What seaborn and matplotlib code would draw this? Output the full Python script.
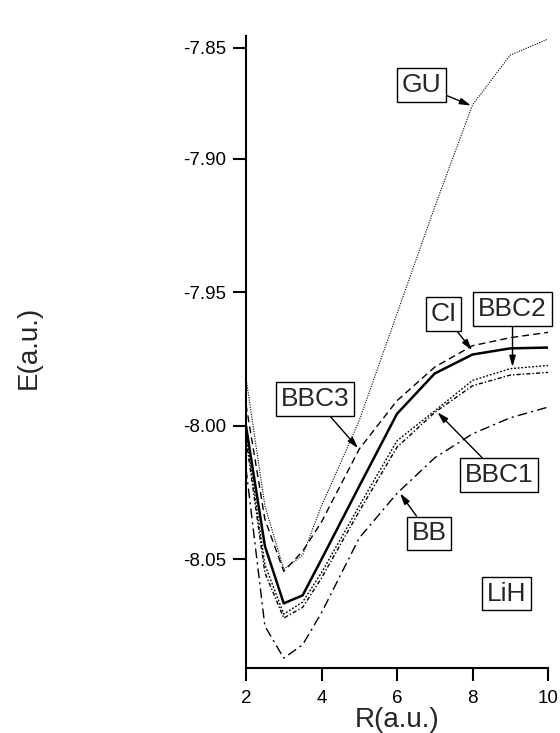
import numpy as np
import pandas as pd
import matplotlib
matplotlib.use("Agg")
import matplotlib.pyplot as plt
import seaborn as sns

# ---------------- data ----------------
R = [2.0, 2.5, 3.0, 3.5, 4.0, 5.0, 6.0, 7.0, 8.0, 9.0, 10.0]
E_GU   = [-7.982, -8.030, -8.0537, -8.0485, -8.030, -7.998, -7.958, -7.918, -7.8757, -7.8532, -7.846]
E_CI   = [-8.000, -8.045, -8.0665, -8.0635, -8.050, -8.0226, -7.9955, -7.9804, -7.9733, -7.9710, -7.9707]
E_BBC3 = [-7.992, -8.035, -8.0545, -8.047, -8.036, -8.0087, -7.9906, -7.978, -7.970, -7.967, -7.965]
E_BBC2 = [-8.003, -8.052, -8.0705, -8.066, -8.055, -8.030, -8.0056, -7.9944, -7.983, -7.9786, -7.9774]
E_BBC1 = [-8.005, -8.055, -8.0720, -8.068, -8.057, -8.032, -8.008, -7.995, -7.985, -7.981, -7.980]
E_BB   = [-8.016, -8.075, -8.0870, -8.082, -8.070, -8.042, -8.0253, -8.012, -8.003, -7.997, -7.993]

y_ticks = [-8.05, -8.00, -7.95, -7.90, -7.85]
y_tick_labels = ["-8.05", "-8.00", "-7.95", "-7.90", "-7.85"]
x_ticks = [2, 4, 6, 8, 10]

# label: (text, box position, arrow tip or None)
labels = [
    ("GU",   (6.64, -7.8667), (7.96, -7.8760)),
    ("CI",   (7.23, -7.9581), (7.99, -7.9717)),
    ("BBC2", (9.06, -7.9563), (9.06, -7.9780)),
    ("BBC3", (3.83, -7.9900), (4.97, -8.0084)),
    ("BBC1", (8.71, -8.0185), (7.07, -7.9949)),
    ("BB",   (6.85, -8.0403), (6.08, -8.0253)),
    ("LiH",  (8.90, -8.0628), None),
]

# ---------------- style ----------------
sns.set_theme(style="white")
plt.rcParams["font.family"] = ["Liberation Sans", "DejaVu Sans"]

fig = plt.figure(figsize=(5.6, 7.33), dpi=100)
ax = fig.add_axes([246/560, 1-668/733, (548-246)/560, (668-36)/733])

# compressed scale above -7.90 (as in the original figure)
K = 0.83
def fwd(y):
    y = np.asarray(y, dtype=float)
    return np.where(y <= -7.90, y, -7.90 + (y + 7.90) * K)
def inv(t):
    t = np.asarray(t, dtype=float)
    return np.where(t <= -7.90, t, -7.90 + (t + 7.90) / K)

series = [
    (E_GU,   dict(lw=0.8, linestyle=(0, (1, 1.2)))),
    (E_BB,   dict(lw=1.0, linestyle=(0, (7, 3, 1.5, 3)))),
    (E_BBC1, dict(lw=1.0, linestyle=(0, (3, 1.5, 1, 1.5)))),
    (E_BBC2, dict(lw=1.0, linestyle=(0, (1.3, 1.3)))),
    (E_BBC3, dict(lw=1.0, linestyle=(0, (5, 3)))),
    (E_CI,   dict(lw=1.8, linestyle="-")),
]
for vals, kw in series:
    df = pd.DataFrame({"R": R, "E": vals})
    sns.lineplot(data=df, x="R", y="E", ax=ax, color="black", sort=False, **kw)

ax.set_yscale("function", functions=(fwd, inv))
ax.set_xlim(2, 10)
ax.set_ylim(-8.0907, -7.8446)
ax.set_yticks(y_ticks)
ax.set_yticklabels(y_tick_labels)
ax.set_xticks(x_ticks)
ax.set_xticklabels([str(t) for t in x_ticks])
ax.minorticks_off()

for s in ["top", "right"]:
    ax.spines[s].set_visible(False)
for s in ["left", "bottom"]:
    ax.spines[s].set_linewidth(1.5)
    ax.spines[s].set_color("black")

ax.tick_params(axis="both", direction="out", length=9.5, width=1.5,
               colors="black", labelsize=13.5, pad=5, bottom=True, left=True)
ax.tick_params(axis="x", pad=6)

ax.set_xlabel("R(a.u.)", fontsize=20, labelpad=0)
ax.set_ylabel("")
fig.text(29/560, 1-347/733, "E(a.u.)", rotation=90, ha="center", va="center",
         fontsize=20)

box = dict(boxstyle="square,pad=0.18", fc="white", ec="black", lw=1.0)
for txt, pos, tip in labels:
    if tip is None:
        ax.text(pos[0], pos[1], txt, ha="center", va="center", fontsize=19,
                bbox=box, zorder=5)
    else:
        ax.annotate(txt, xy=tip, xytext=pos, ha="center", va="center",
                    fontsize=19, bbox=box, zorder=5, annotation_clip=False,
                    arrowprops=dict(arrowstyle="-|>,head_length=0.35,head_width=0.1",
                                    color="black", lw=1.0, shrinkA=0, shrinkB=0))

fig.savefig("out.png", dpi=100)
